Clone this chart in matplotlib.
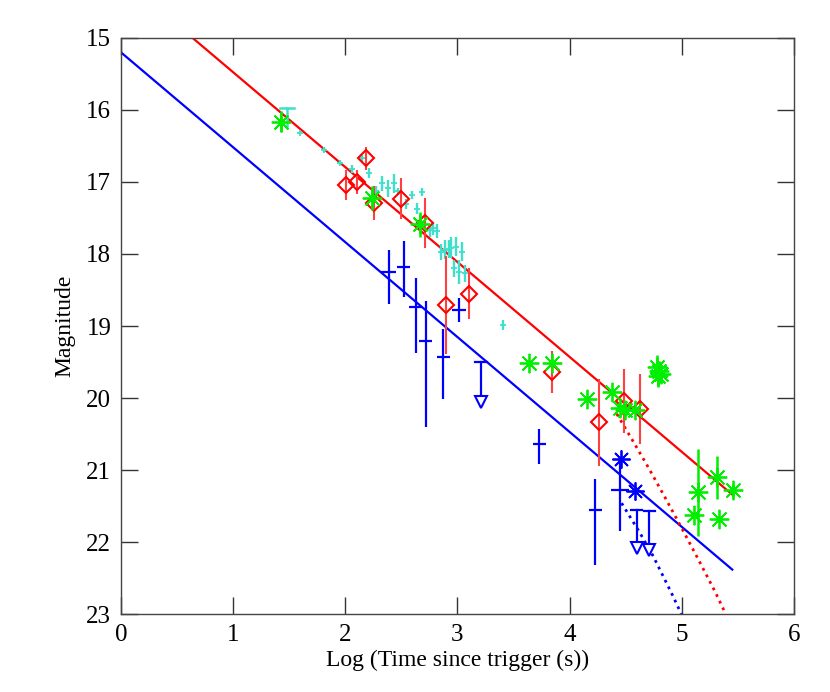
import matplotlib
matplotlib.use("Agg")
import matplotlib.pyplot as plt
import numpy as np

plt.rcParams['font.family'] = ['Liberation Serif', 'DejaVu Serif']

# fitted power-law decays (mag = a + b * log t)
slope = 1.318
red_icpt = 14.158
blue_icpt = 15.20
fit_x = [0.0, 5.45]

# cyan photometry
cyan_x = [1.60, 1.81, 1.95, 2.06, 2.15, 2.21, 2.27, 2.33, 2.38, 2.43, 2.47, 2.54,
          2.59, 2.64, 2.68, 2.755, 2.785, 2.82, 2.853, 2.89, 2.92, 2.94, 2.97,
          2.99, 3.01, 3.04, 3.07, 3.41]
cyan_mag = [16.32, 16.55, 16.73, 16.82, 16.67, 16.88, 17.12, 17.02, 17.09, 17.02,
            17.13, 17.30, 17.18, 17.37, 17.14, 17.67, 17.64, 17.68, 17.97, 17.94,
            17.93, 17.91, 18.20, 17.90, 18.25, 17.97, 18.27, 18.99]
cyan_err = [0.02, 0.03, 0.04, 0.05, 0.05, 0.07, 0.07, 0.11, 0.12, 0.13, 0.05, 0.07,
            0.05, 0.08, 0.05, 0.09, 0.09, 0.10, 0.11, 0.13, 0.13, 0.15, 0.12,
            0.13, 0.16, 0.13, 0.12, 0.07]
# cyan point with capped upper bar
cyan_cap_x = [1.48]
cyan_cap_top = [15.97]
cyan_cap_bot = [16.22]

# red diamonds
red_x = [2.006, 2.10, 2.18, 2.26, 2.50, 2.71, 2.895, 3.10, 3.845, 4.265, 4.485, 4.627]
red_mag = [17.04, 17.00, 16.67, 17.29, 17.23, 17.57, 18.71, 18.55, 19.64, 20.34, 20.04, 20.15]
red_err = [0.21, 0.17, 0.16, 0.24, 0.28, 0.35, 0.68, 0.35, 0.29, 0.60, 0.44, 0.49]

# blue crosses
blue_x = [2.385, 2.52, 2.627, 2.716, 2.873, 3.013, 3.73, 4.23, 4.449]
blue_mag = [18.25, 18.18, 18.73, 19.21, 19.43, 18.78, 20.64, 21.56, 21.28]
blue_err_up = [0.30, 0.36, 0.39, 0.56, 0.39, 0.17, 0.21, 0.44, 0.43]
blue_err_dn = [0.45, 0.42, 0.65, 1.19, 0.58, 0.17, 0.27, 0.76, 0.57]
blue_xerr = [0.07, 0.06, 0.06, 0.06, 0.06, 0.06, 0.06, 0.06, 0.08]

# blue asterisks
bstar_x = [4.455, 4.582]
bstar_mag = [20.85, 21.29]

# blue upper limits (cap magnitude, arrow tip magnitude)
blim_x = [3.21, 4.597, 4.71]
blim_top = [19.50, 21.55, 21.57]
blim_bot = [20.05, 22.09, 22.11]

# green asterisks
green_x = [1.426, 2.235, 2.665, 3.64, 3.845, 4.152, 4.38, 4.449, 4.493, 4.582,
           4.78, 4.80, 4.79, 4.81, 5.147, 5.31, 5.459, 5.108, 5.33]
green_mag = [16.16, 17.22, 17.59, 19.51, 19.51, 20.01, 19.92, 20.14, 20.16, 20.17,
             19.57, 19.63, 19.70, 19.66, 21.31, 21.10, 21.28, 21.63, 21.68]
green_err = [0.14, 0.17, 0.18, 0.0, 0.0, 0.0, 0.0, 0.0, 0.0, 0.0,
             0.17, 0.15, 0.15, 0.12, 0.60, 0.30, 0.09, 0.0, 0.0]

# late-time steepening (dotted)
red_dot_x = [4.42, 4.55, 4.70, 4.85, 5.00, 5.15, 5.30, 5.385]
red_dot_mag = [20.22, 20.56, 20.96, 21.38, 21.81, 22.25, 22.70, 22.98]
blue_dot_x = [4.463, 4.627, 4.746, 4.924, 5.01]
blue_dot_mag = [21.46, 21.875, 22.20, 22.76, 23.05]

fig = plt.figure(figsize=(8.3, 6.92), dpi=100)
ax = fig.add_axes([0.1458, 0.1127, 0.8108, 0.8324])

cyan = '#3ee0cc'
green = '#00ee00'
star = (8, 2, 0)

fx = np.array(fit_x)
ax.plot(fx, red_icpt + slope * fx, color='red', lw=1.6, zorder=2)
ax.plot(fx, blue_icpt + slope * fx, color='blue', lw=1.6, zorder=2)
ax.plot(red_dot_x, red_dot_mag, color='red', ls=':', lw=2, zorder=2)
ax.plot(blue_dot_x, blue_dot_mag, color='blue', ls=':', lw=2, zorder=2)

ax.errorbar(cyan_x, cyan_mag, yerr=cyan_err, fmt='+', color=cyan, ms=5, mew=1.3,
            elinewidth=1.7, capsize=0, zorder=3)
for x, t, b in zip(cyan_cap_x, cyan_cap_top, cyan_cap_bot):
    ax.plot([x, x], [t, b], color=cyan, lw=1.8, zorder=3)
    ax.plot([x - 0.065, x + 0.065], [t, t], color=cyan, lw=1.8, zorder=3)

ax.errorbar(red_x, red_mag, yerr=red_err, fmt='D', color='red', mfc='none', ms=8,
            mew=1.5, elinewidth=1.5, ecolor=(1, 0.25, 0.25), capsize=0, zorder=4)

ax.errorbar(blue_x, blue_mag, yerr=[blue_err_up, blue_err_dn], xerr=blue_xerr, fmt='none',
            ecolor='blue', elinewidth=1.6, capsize=0, zorder=4)
ax.plot(bstar_x, bstar_mag, ls='none', marker=star, color='blue', ms=13, mew=1.3, zorder=4)

for x, t, b in zip(blim_x, blim_top, blim_bot):
    ax.plot([x, x], [t, b], color='blue', lw=1.6, zorder=4)
    ax.plot([x - 0.05, x + 0.05], [t, t], color='blue', lw=1.6, zorder=4)
ax.plot(blim_x, blim_bot, ls='none', marker='v', ms=9, mfc='white', mec='blue',
        mew=1.5, zorder=5)

ax.errorbar(green_x, green_mag, yerr=green_err, fmt='none', ecolor=green,
            elinewidth=1.8, capsize=0, zorder=5)
ax.plot(green_x, green_mag, ls='none', marker=star, color=green, ms=14, mew=1.3, zorder=5)

ax.set_xlim(0, 6)
ax.set_ylim(23, 15)
ax.set_xticks(range(0, 7))
ax.set_yticks(range(15, 24))
ax.tick_params(direction='in', length=12, width=1, top=True, right=True,
               labelsize=18, pad=7, color='#333333')
for s in ax.spines.values():
    s.set_color('#444444')
    s.set_linewidth(1)

ax.set_xlabel('Log (Time since trigger (s))', fontsize=17, labelpad=3)
ax.set_ylabel('Magnitude', fontsize=17, labelpad=8)

fig.savefig('out.png', dpi=100)
